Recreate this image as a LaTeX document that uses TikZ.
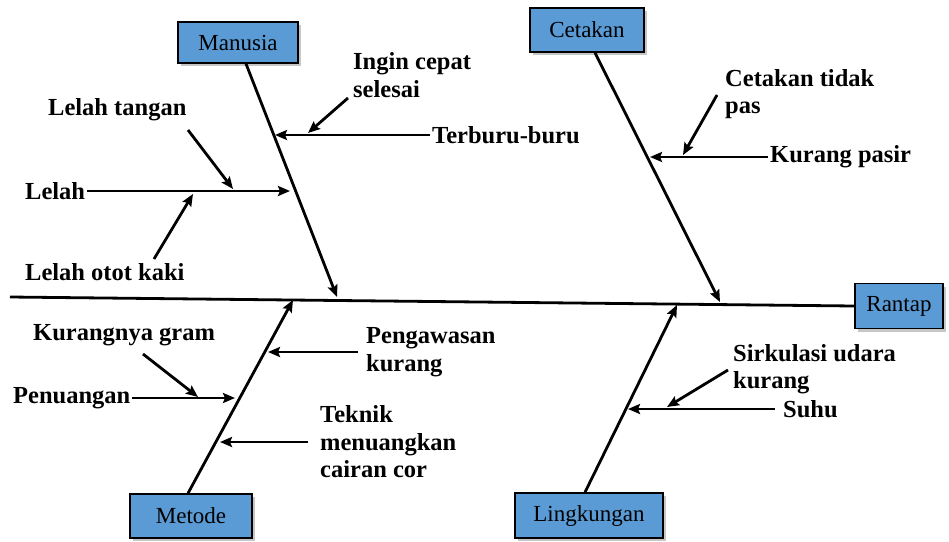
\documentclass[tikz,border=0pt]{standalone}
\usepackage{fontspec}
\setmainfont{Liberation Serif}
\usetikzlibrary{arrows.meta,shadows}
\definecolor{kotakbiru}{RGB}{91,155,213}
\tikzset{
	kategori/.style = {draw = black, line width = 1.5pt, fill = kotakbiru, inner sep = 0pt,
			drop shadow = {shadow xshift = 3pt, shadow yshift = -3pt, opacity = 0.45},
			font = \fontsize{23}{27}\selectfont},
	sebab/.style = {inner sep = 2pt, align = left, font = \fontsize{24.5}{27.5}\selectfont\bfseries},
	tulang/.style = {line width = 2.8pt},
	panah/.style = {line width = 2.8pt, -{Stealth[length = 12pt, width = 10pt, inset = 2pt]}}
}

\begin{document}
\begin{tikzpicture}[x = 1pt, y = -1pt]
	\useasboundingbox (0,0) rectangle (949,541);

	% kotak kategori
	\node [kategori, minimum width = 120pt, minimum height = 41pt] (manusia) at (238,42.5) {Manusia};
	\node [kategori, minimum width = 114pt, minimum height = 44pt] (cetakan) at (587,30) {Cetakan};
	\node [kategori, minimum width = 122pt, minimum height = 44pt] (metode) at (191,516) {Metode};
	\node [kategori, minimum width = 148pt, minimum height = 45pt] (lingkungan) at (589,515.5) {Lingkungan};
	\node [kategori, minimum width = 88pt, minimum height = 45pt] (rantap) at (899,306) {Rantap};

	% tulang utama
	\coordinate (ekor) at (10,297);
	\draw [tulang] (ekor) -- (rantap.west);

	\coordinate (ujungM) at (337,297);
	\coordinate (ujungC) at (720,302);
	\coordinate (ujungT) at (293,300);
	\coordinate (ujungL) at (677,305);
	\draw [panah] ([xshift = 8pt]manusia.south) -- (ujungM);
	\draw [panah] ([xshift = 8pt]cetakan.south) -- (ujungC);
	\draw [panah] ([xshift = -3pt]metode.north) -- (ujungT);
	\draw [panah] ([xshift = -4pt]lingkungan.north) -- (ujungL);

	% manusia
	\node [sebab, anchor = west] (ingin) at (351,75) {Ingin cepat\\selesai};
	\node [sebab, anchor = west] (terburu) at (430,135) {Terburu-buru};
	\node [sebab, anchor = west] (lelahtangan) at (46,110) {Lelah tangan};
	\node [sebab, anchor = west] (lelah) at (23,191) {Lelah};
	\node [sebab, anchor = west] (lelahotot) at (23,272) {Lelah otot kaki};
	\coordinate (m1) at (275,135);
	\coordinate (m2) at (290,191);
	\draw [panah] (terburu.west) -- (m1);
	\draw [panah] (lelah.east) -- (m2);
	\coordinate (inginA) at (348,98);
	\coordinate (inginB) at (308,133);
	\draw [panah] (inginA) -- (inginB);
	\coordinate (tanganA) at (188,130);
	\coordinate (tanganB) at (233,189);
	\draw [panah] (tanganA) -- (tanganB);
	\coordinate (ototA) at (154,259);
	\coordinate (ototB) at (193,194);
	\draw [panah] (ototA) -- (ototB);

	% cetakan
	\node [sebab, anchor = west] (tidakpas) at (723,94) {Cetakan tidak\\pas};
	\node [sebab, anchor = west] (kurangpasir) at (768,157) {Kurang pasir};
	\coordinate (c1) at (650,157);
	\draw [panah] (kurangpasir.west) -- (c1);
	\coordinate (pasA) at (717,95);
	\coordinate (pasB) at (683,155);
	\draw [panah] (pasA) -- (pasB);

	% metode
	\node [sebab, anchor = west] (pengawasan) at (364,352) {Pengawasan\\kurang};
	\node [sebab, anchor = west] (teknik) at (318,442) {Teknik\\menuangkan\\cairan cor};
	\node [sebab, anchor = west] (kurangnya) at (31,335) {Kurangnya gram};
	\node [sebab, anchor = west] (penuangan) at (11,398) {Penuangan};
	\coordinate (t1) at (268,352);
	\coordinate (t2) at (235,398);
	\coordinate (t3) at (220,442);
	\draw [panah, shorten < = 6pt] (pengawasan.west) -- (t1);
	\draw [panah] (penuangan.east) -- (t2);
	\draw [panah, shorten < = 10pt] (teknik.west) -- (t3);
	\coordinate (gramA) at (143,354);
	\coordinate (gramB) at (198,397);
	\draw [panah] (gramA) -- (gramB);

	% lingkungan
	\node [sebab, anchor = west] (sirkulasi) at (731,369) {Sirkulasi udara\\kurang};
	\node [sebab, anchor = west] (suhu) at (781,409) {Suhu};
	\coordinate (l1) at (628,409);
	\draw [panah, shorten < = 6pt] (suhu.west) -- (l1);
	\coordinate (udaraA) at (728,370);
	\coordinate (udaraB) at (667,407);
	\draw [panah] (udaraA) -- (udaraB);

\end{tikzpicture}
\end{document}
